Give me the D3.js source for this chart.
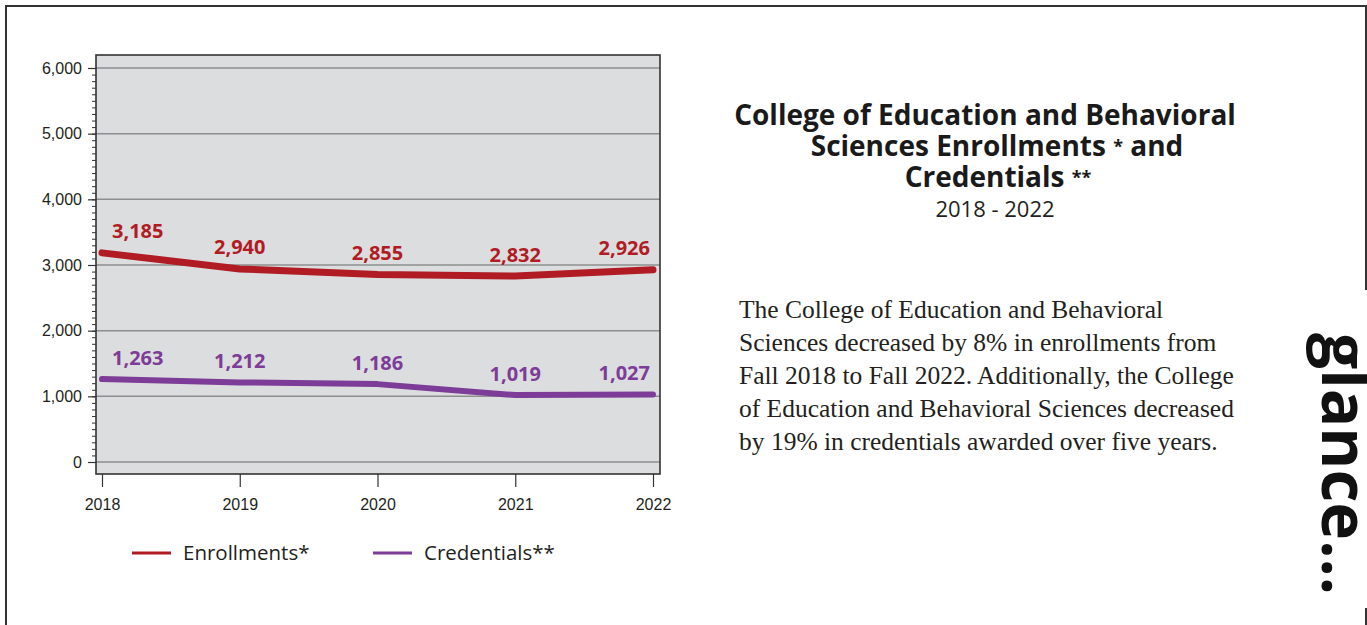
<html lang="en">
<head>
<meta charset="utf-8">
<title>College of Education and Behavioral Sciences Enrollments and Credentials</title>
<style>
    body {
        margin: 0;
        background-color: white;
    }
    svg {
        display: block;
        font-family: "Open Sans", "Noto Sans", sans-serif;
    }
    .axis text {
        fill: #231f20;
        font-size: 16px;
    }
    .title {
        font-weight: bold;
        fill: #1a1a1a;
        text-anchor: middle;
    }
    .para {
        font-family: "Liberation Serif", "DejaVu Serif", serif;
        font-size: 25.5px;
        fill: #231f20;
    }
</style>
</head>
<body>

<script src="https://cdnjs.cloudflare.com/ajax/libs/d3/7.8.5/d3.min.js"></script>
<script>
    // data
    var years = [2018, 2019, 2020, 2021, 2022];
    var enrollments = [3185, 2940, 2855, 2832, 2926];
    var credentials = [1263, 1212, 1186, 1019, 1027];
    var yTicks = [0, 1000, 2000, 3000, 4000, 5000, 6000];
    var seriesNames = ["Enrollments*", "Credentials**"];

    var titleLines = ["College of Education and Behavioral", "Sciences Enrollments", "Credentials"];
    var subtitle = "2018 - 2022";
    var paragraph = [
        "The College of Education and Behavioral",
        "Sciences decreased by 8% in enrollments from",
        "Fall 2018 to Fall 2022. Additionally, the College",
        "of Education and Behavioral Sciences decreased",
        "by 19% in credentials awarded over five years."
    ];

    var red = "#b11c24", purple = "#7c3c97";

    var fullwidth = 1367, fullheight = 625;

    var svg = d3.select("body")
                .append("svg")
                .attr("width", fullwidth)
                .attr("height", fullheight);

    // page frame
    svg.append("path")
        .attr("d", "M6,625 V6 H1366 V290")
        .attr("fill", "none")
        .attr("stroke", "#333")
        .attr("stroke-width", 2);
    svg.append("line")
        .attr("x1", 1366).attr("x2", 1366)
        .attr("y1", 608).attr("y2", 625)
        .attr("stroke", "#333")
        .attr("stroke-width", 2);

    // plot area
    var plot = { left: 96, right: 660, top: 55, bottom: 474 };

    var xScale = d3.scaleLinear()
                    .domain([2018, 2022])
                    .range([102, 653]);

    var yScale = d3.scaleLinear()
                    .domain([0, 6000])
                    .range([462, 68]);

    svg.append("rect")
        .attr("x", plot.left)
        .attr("y", plot.top)
        .attr("width", plot.right - plot.left)
        .attr("height", plot.bottom - plot.top)
        .attr("fill", "#dcdddf");

    // gridlines
    svg.selectAll(".grid")
        .data(yTicks)
        .enter()
        .append("line")
        .attr("class", "grid")
        .attr("x1", plot.left)
        .attr("x2", plot.right)
        .attr("y1", function(d) { return yScale(d); })
        .attr("y2", function(d) { return yScale(d); })
        .attr("stroke", "#8e8e8e")
        .attr("stroke-width", 1.5);

    // minor y ticks every 100
    var minor = d3.range(0, 6001, 100);
    svg.append("g")
        .attr("transform", "translate(" + plot.left + ",0)")
        .call(d3.axisLeft(yScale).tickValues(minor).tickSize(4).tickFormat(""))
        .call(function(g) {
            g.select(".domain").remove();
            g.selectAll("line").attr("stroke", "#333");
        });

    // major y ticks + labels
    svg.append("g")
        .attr("class", "axis")
        .attr("transform", "translate(" + plot.left + ",0)")
        .call(d3.axisLeft(yScale).tickValues(yTicks).tickSize(8).tickPadding(6)
                .tickFormat(d3.format(",")))
        .call(function(g) {
            g.select(".domain").remove();
            g.selectAll("line").attr("stroke", "#333").attr("stroke-width", 1.2);
            g.selectAll("text").attr("font-family", null);
        });

    // x axis
    svg.append("g")
        .attr("class", "axis")
        .attr("transform", "translate(0," + plot.bottom + ")")
        .call(d3.axisBottom(xScale).tickValues(years).tickSize(13).tickPadding(12)
                .tickFormat(d3.format("d")))
        .call(function(g) {
            g.select(".domain").remove();
            g.selectAll("line").attr("stroke", "#333").attr("stroke-width", 1.2);
            g.selectAll("text").attr("font-family", null);
        });

    // plot border
    svg.append("rect")
        .attr("x", plot.left)
        .attr("y", plot.top)
        .attr("width", plot.right - plot.left)
        .attr("height", plot.bottom - plot.top)
        .attr("fill", "none")
        .attr("stroke", "#333")
        .attr("stroke-width", 1.6);

    // lines
    var line = d3.line()
                .x(function(d, i) { return xScale(years[i]); })
                .y(function(d) { return yScale(d); });

    var series = [
        { values: enrollments, color: red, width: 7 },
        { values: credentials, color: purple, width: 6 }
    ];

    series.forEach(function(s) {
        svg.append("path")
            .datum(s.values)
            .attr("d", line)
            .attr("fill", "none")
            .attr("stroke", s.color)
            .attr("stroke-width", s.width)
            .attr("stroke-linecap", "round")
            .attr("stroke-linejoin", "round");

        svg.selectAll(null)
            .data(s.values)
            .enter()
            .append("text")
            .attr("x", function(d, i) {
                if (i === 0) return xScale(years[i]) + 10;
                if (i === years.length - 1) return xScale(years[i]) - 3;
                return xScale(years[i]);
            })
            .attr("y", function(d) { return yScale(d) - 14.5; })
            .attr("text-anchor", function(d, i) {
                if (i === 0) return "start";
                if (i === years.length - 1) return "end";
                return "middle";
            })
            .attr("font-size", "20px")
            .attr("font-weight", "bold")
            .attr("fill", s.color)
            .text(function(d) { return d3.format(",")(d); });
    });

    // legend
    var legend = [
        { name: seriesNames[0], color: red, x: 132 },
        { name: seriesNames[1], color: purple, x: 373 }
    ];
    legend.forEach(function(l) {
        svg.append("line")
            .attr("x1", l.x).attr("x2", l.x + 39)
            .attr("y1", 553).attr("y2", 553)
            .attr("stroke", l.color)
            .attr("stroke-width", 3);
        svg.append("text")
            .attr("x", l.x + 51)
            .attr("y", 560)
            .attr("font-size", "20.5px")
            .attr("fill", "#231f20")
            .text(l.name);
    });

    // title
    svg.append("text").attr("class", "title")
        .attr("x", 985).attr("y", 125)
        .attr("font-size", "28px")
        .text(titleLines[0]);

    var t2 = svg.append("text").attr("class", "title")
        .attr("x", 997).attr("y", 156)
        .attr("font-size", "28px");
    t2.append("tspan").text(titleLines[1] + "  ");
    t2.append("tspan").attr("font-size", "18px").attr("dy", -3).text("*");
    t2.append("tspan").attr("dy", 3).text(" and");

    var t3 = svg.append("text").attr("class", "title")
        .attr("x", 998).attr("y", 187)
        .attr("font-size", "28px");
    t3.append("tspan").text(titleLines[2] + " ");
    t3.append("tspan").attr("font-size", "18px").attr("dy", -3).text("**");

    svg.append("text")
        .attr("x", 995).attr("y", 217)
        .attr("text-anchor", "middle")
        .attr("font-size", "22px")
        .attr("fill", "#231f20")
        .text(subtitle);

    // paragraph
    svg.selectAll(".para")
        .data(paragraph)
        .enter()
        .append("text")
        .attr("class", "para")
        .attr("x", 739)
        .attr("y", function(d, i) { return 318 + i * 33; })
        .text(function(d) { return d; });

    // side tab text
    svg.append("text")
        .attr("transform", "translate(1322,333) rotate(90)")
        .attr("font-size", "64px")
        .attr("font-weight", "bold")
        .attr("fill", "#111")
        .text("glance...");
</script>
</body>
</html>
